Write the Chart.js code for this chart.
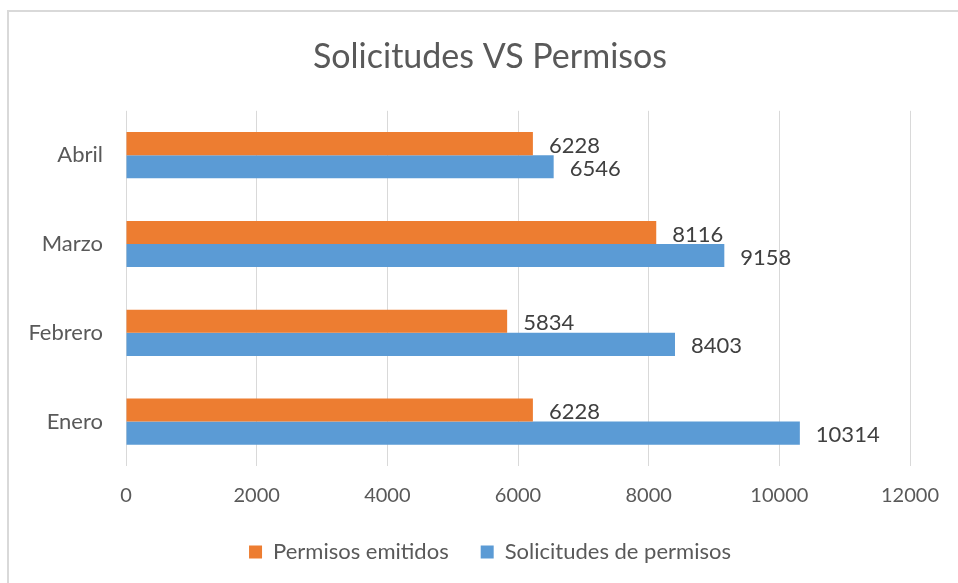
<!DOCTYPE html>
<html lang="es">
<head>
  <meta charset="UTF-8">
  <title>Solicitudes VS Permisos</title>
  <script src="https://cdn.jsdelivr.net/npm/chart.js"></script>
  <style>
    body {
      margin: 0;
      background: #fff;
      overflow: hidden;
      font-family: Lato, sans-serif;
    }

    .frame {
      position: absolute;
      left: 7px;
      top: 10px;
      width: 1200px;
      height: 800px;
      border: 2px solid #d9d9d9;
    }

    .wrap {
      position: absolute;
      left: 0;
      top: 0;
      width: 958px;
      height: 583px;
    }
  </style>
</head>
<body>

  <div class="frame"></div>
  <div class="wrap">
    <canvas id="barChart" width="958" height="583"></canvas>
  </div>

  <script>
    const months = ['Enero', 'Febrero', 'Marzo', 'Abril'];
    const permisosEmitidos = [6228, 5834, 8116, 6228];
    const solicitudes = [10314, 8403, 9158, 6546];
    const xTicks = [0, 2000, 4000, 6000, 8000, 10000, 12000];

    // value labels to the right of each bar
    const barValues = {
      id: 'barValues',
      afterDatasetsDraw(chart) {
        const ctx = chart.ctx;
        ctx.save();
        ctx.font = '22px Lato, sans-serif';
        ctx.fillStyle = '#404040';
        ctx.textAlign = 'left';
        ctx.textBaseline = 'middle';
        chart.data.datasets.forEach((ds, i) => {
          chart.getDatasetMeta(i).data.forEach((bar, j) => {
            ctx.fillText(ds.data[j], bar.x + 16, bar.y + 2);
          });
        });
        ctx.restore();
      }
    };

    // title and legend are centred a bit right of the canvas middle
    const shiftBlocks = {
      id: 'shiftBlocks',
      afterLayout(chart) {
        chart.titleBlock.left += 70;
        chart.legend.left += 70;
      }
    };

    const ctx1 = document.getElementById('barChart').getContext('2d');
    new Chart(ctx1, {
      type: 'bar',
      data: {
        labels: months,
        datasets: [{
          label: 'Permisos emitidos',
          data: permisosEmitidos,
          backgroundColor: '#ed7d31'
        }, {
          label: 'Solicitudes de permisos',
          data: solicitudes,
          backgroundColor: '#5b9bd5'
        }]
      },
      options: {
        indexAxis: 'y',
        responsive: false,
        animation: false,
        categoryPercentage: 0.52,
        barPercentage: 1,
        layout: { padding: { left: 0, right: 48, bottom: 10 } },
        scales: {
          x: {
            min: 0,
            max: 12000,
            afterBuildTicks(scale) {
              scale.ticks = xTicks.map(v => ({ value: v }));
            },
            afterFit(scale) { scale.height -= 17; },
            grid: { color: '#d9d9d9', drawTicks: false },
            border: { display: false },
            ticks: {
              color: '#595959',
              font: { family: 'Lato, sans-serif', size: 20 },
              padding: 18,
              callback: v => String(v)
            }
          },
          y: {
            reverse: true,
            grid: { display: false },
            border: { display: false },
            afterFit(scale) { scale.width = 126; },
            ticks: {
              color: '#595959',
              font: { family: 'Lato, sans-serif', size: 22 },
              padding: 15
            }
          }
        },
        plugins: {
          title: {
            display: true,
            text: 'Solicitudes VS Permisos',
            color: '#595959',
            font: { family: 'Lato, sans-serif', size: 34, weight: 'normal' },
            padding: { top: 37, bottom: 33 }
          },
          legend: {
            position: 'bottom',
            labels: {
              color: '#595959',
              font: { family: 'Lato, sans-serif', size: 22 },
              boxWidth: 13,
              boxHeight: 13,
              padding: 32
            }
          },
          tooltip: { enabled: false }
        }
      },
      plugins: [barValues, shiftBlocks]
    });
  </script>

</body>
</html>
